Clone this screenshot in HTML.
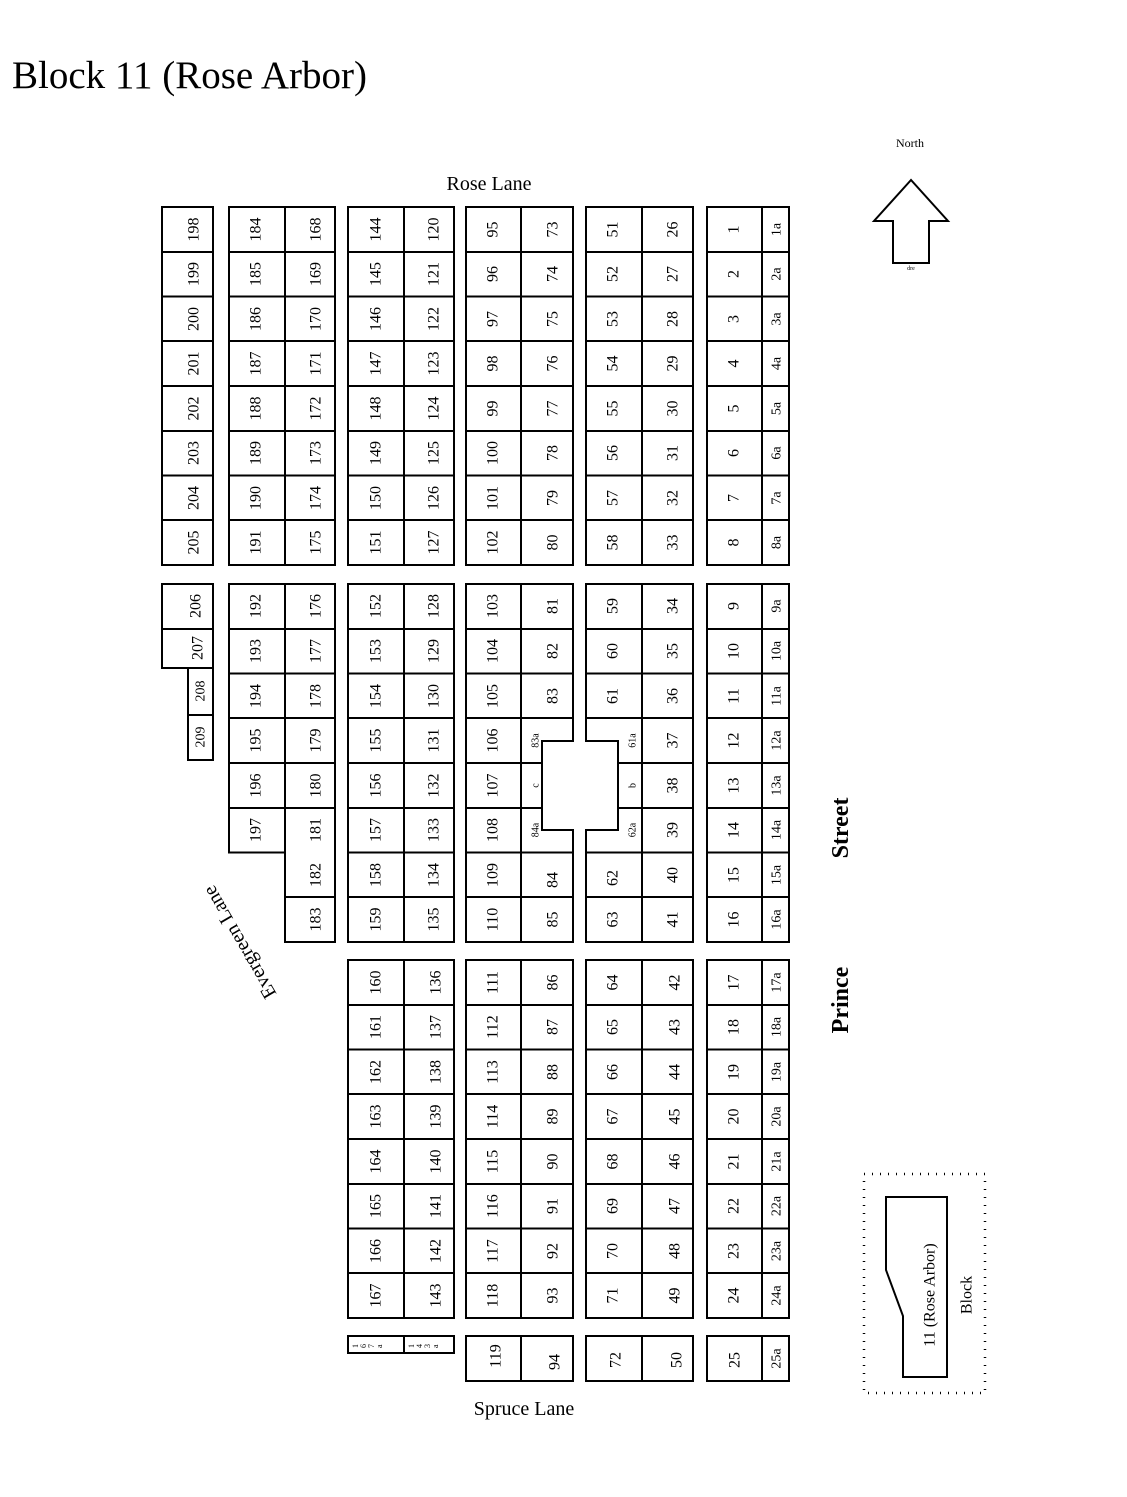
<!DOCTYPE html>
<html><head><meta charset="utf-8"><style>
html,body{margin:0;padding:0;background:#fff;}
svg{display:block;}
text{font-family:"Liberation Serif",serif;fill:#000;}
.n text{font-size:16px;text-anchor:middle;dominant-baseline:central;}
.n text.s{font-size:14px;}
.n text.t{font-size:10px;}
</style></head><body>
<svg width="1127" height="1497" viewBox="0 0 1127 1497" xmlns="http://www.w3.org/2000/svg">
<text x="12" y="88" font-size="39" textLength="355" lengthAdjust="spacingAndGlyphs">Block 11 (Rose Arbor)</text>
<text x="489" y="190" font-size="20" text-anchor="middle">Rose Lane</text>
<text x="524" y="1415" font-size="20" text-anchor="middle">Spruce Lane</text>
<text transform="translate(848 828) rotate(-90)" font-size="24" font-weight="bold" text-anchor="middle">Street</text>
<text transform="translate(848 1000) rotate(-90)" font-size="24" font-weight="bold" text-anchor="middle">Prince</text>
<text transform="translate(240 942) rotate(-120)" font-size="20" text-anchor="middle" dominant-baseline="central">Evergreen Lane</text>
<text x="910" y="147" font-size="12" text-anchor="middle">North</text>
<path d="M911 180L874 221H893V263H929V221H948Z" fill="none" stroke="#000" stroke-width="2"/>
<text x="911" y="270" font-size="6" text-anchor="middle">dre</text>
<rect x="864" y="1174" width="121" height="219" fill="none" stroke="#000" stroke-width="2.5" stroke-dasharray="1 7"/>
<path d="M886 1197H947V1377H903V1316L886 1270Z" fill="none" stroke="#000" stroke-width="2"/>
<text transform="translate(930 1295) rotate(-90)" font-size="16" text-anchor="middle" dominant-baseline="central">11 (Rose Arbor)</text>
<text transform="translate(967 1295) rotate(-90)" font-size="16" text-anchor="middle" dominant-baseline="central">Block</text>

<g fill="none" stroke="#000" stroke-width="2">
<rect x="162" y="207" width="51" height="358"/>
<rect x="229" y="207" width="106" height="358"/>
<rect x="348" y="207" width="106" height="358"/>
<rect x="466" y="207" width="107" height="358"/>
<rect x="586" y="207" width="107" height="358"/>
<rect x="707" y="207" width="82" height="358"/>
<path d="M285 207V565M404 207V565M521 207V565M642 207V565M762 207V565"/>
<path d="M162 252H213M162 296.5H213M162 341H213M162 386H213M162 431H213M162 475.5H213M162 520H213
M229 252H335M229 296.5H335M229 341H335M229 386H335M229 431H335M229 475.5H335M229 520H335
M348 252H454M348 296.5H454M348 341H454M348 386H454M348 431H454M348 475.5H454M348 520H454
M466 252H573M466 296.5H573M466 341H573M466 386H573M466 431H573M466 475.5H573M466 520H573
M586 252H693M586 296.5H693M586 341H693M586 386H693M586 431H693M586 475.5H693M586 520H693
M707 252H789M707 296.5H789M707 341H789M707 386H789M707 431H789M707 475.5H789M707 520H789"/>
<path d="M162 584H213V668H162ZM162 629H213"/>
<path d="M188 668H213V760H188ZM188 715H213"/>
<path d="M229 584H335V942H285V852.5H229Z M285 584V852.5"/>
<path d="M229 629H335M229 673.5H335M229 718H335M229 763H335M229 808H335M285 897H335"/>
<rect x="348" y="584" width="106" height="358"/>
<path d="M404 584V942M348 629H454M348 673.5H454M348 718H454M348 763H454M348 808H454M348 852.5H454M348 897H454"/>
<path d="M573 741V584H466V942H573V830H542V741Z"/>
<path d="M521 584V942M466 629H573M466 673.5H573M466 718H573M466 763H542M466 808H542M466 852.5H573M466 897H573"/>
<path d="M586 741V584H693V942H586V830H618V741Z"/>
<path d="M642 584V942M586 629H693M586 673.5H693M586 718H693M618 763H693M618 808H693M586 852.5H693M586 897H693"/>
<rect x="707" y="584" width="82" height="358"/>
<path d="M762 584V942M707 629H789M707 673.5H789M707 718H789M707 763H789M707 808H789M707 852.5H789M707 897H789"/>
<rect x="348" y="960" width="106" height="358"/>
<rect x="466" y="960" width="107" height="358"/>
<rect x="586" y="960" width="107" height="358"/>
<rect x="707" y="960" width="82" height="358"/>
<path d="M404 960V1318M521 960V1318M642 960V1318M762 960V1318"/>
<path d="M348 1005H454M348 1049.5H454M348 1094H454M348 1139H454M348 1184H454M348 1228.5H454M348 1273H454
M466 1005H573M466 1049.5H573M466 1094H573M466 1139H573M466 1184H573M466 1228.5H573M466 1273H573
M586 1005H693M586 1049.5H693M586 1094H693M586 1139H693M586 1184H693M586 1228.5H693M586 1273H693
M707 1005H789M707 1049.5H789M707 1094H789M707 1139H789M707 1184H789M707 1228.5H789M707 1273H789"/>
<rect x="348" y="1336" width="106" height="17"/><path d="M404 1336V1353"/>
<rect x="466" y="1336" width="107" height="45"/><path d="M521 1336V1381"/>
<rect x="586" y="1336" width="107" height="45"/><path d="M642 1336V1381"/>
<rect x="707" y="1336" width="82" height="45"/><path d="M762 1336V1381"/>
</g>

<g class="n" transform="rotate(-90)">
<text x="-229.5" y="194">198</text><text x="-274" y="194">199</text><text x="-319" y="194">200</text><text x="-363.5" y="194">201</text><text x="-408.5" y="194">202</text><text x="-453" y="194">203</text><text x="-498" y="194">204</text><text x="-542.5" y="194">205</text>
<text x="-229.5" y="256">184</text><text x="-274" y="256">185</text><text x="-319" y="256">186</text><text x="-363.5" y="256">187</text><text x="-408.5" y="256">188</text><text x="-453" y="256">189</text><text x="-498" y="256">190</text><text x="-542.5" y="256">191</text>
<text x="-229.5" y="316">168</text><text x="-274" y="316">169</text><text x="-319" y="316">170</text><text x="-363.5" y="316">171</text><text x="-408.5" y="316">172</text><text x="-453" y="316">173</text><text x="-498" y="316">174</text><text x="-542.5" y="316">175</text>
<text x="-229.5" y="376">144</text><text x="-274" y="376">145</text><text x="-319" y="376">146</text><text x="-363.5" y="376">147</text><text x="-408.5" y="376">148</text><text x="-453" y="376">149</text><text x="-498" y="376">150</text><text x="-542.5" y="376">151</text>
<text x="-229.5" y="434">120</text><text x="-274" y="434">121</text><text x="-319" y="434">122</text><text x="-363.5" y="434">123</text><text x="-408.5" y="434">124</text><text x="-453" y="434">125</text><text x="-498" y="434">126</text><text x="-542.5" y="434">127</text>
<text x="-229.5" y="493">95</text><text x="-274" y="493">96</text><text x="-319" y="493">97</text><text x="-363.5" y="493">98</text><text x="-408.5" y="493">99</text><text x="-453" y="493">100</text><text x="-498" y="493">101</text><text x="-542.5" y="493">102</text>
<text x="-229.5" y="553">73</text><text x="-274" y="553">74</text><text x="-319" y="553">75</text><text x="-363.5" y="553">76</text><text x="-408.5" y="553">77</text><text x="-453" y="553">78</text><text x="-498" y="553">79</text><text x="-542.5" y="553">80</text>
<text x="-229.5" y="613">51</text><text x="-274" y="613">52</text><text x="-319" y="613">53</text><text x="-363.5" y="613">54</text><text x="-408.5" y="613">55</text><text x="-453" y="613">56</text><text x="-498" y="613">57</text><text x="-542.5" y="613">58</text>
<text x="-229.5" y="673">26</text><text x="-274" y="673">27</text><text x="-319" y="673">28</text><text x="-363.5" y="673">29</text><text x="-408.5" y="673">30</text><text x="-453" y="673">31</text><text x="-498" y="673">32</text><text x="-542.5" y="673">33</text>
<text x="-229.5" y="734">1</text><text x="-274" y="734">2</text><text x="-319" y="734">3</text><text x="-363.5" y="734">4</text><text x="-408.5" y="734">5</text><text x="-453" y="734">6</text><text x="-498" y="734">7</text><text x="-542.5" y="734">8</text>
<text class="s" x="-229.5" y="777">1a</text><text class="s" x="-274" y="777">2a</text><text class="s" x="-319" y="777">3a</text><text class="s" x="-363.5" y="777">4a</text><text class="s" x="-408.5" y="777">5a</text><text class="s" x="-453" y="777">6a</text><text class="s" x="-498" y="777">7a</text><text class="s" x="-542.5" y="777">8a</text>
<text x="-606" y="196">206</text><text x="-648" y="198">207</text><text class="s" x="-691" y="201">208</text><text class="s" x="-737" y="201">209</text>
<text x="-606" y="256">192</text><text x="-651" y="256">193</text><text x="-696" y="256">194</text><text x="-740.5" y="256">195</text><text x="-785.5" y="256">196</text><text x="-830" y="256">197</text>
<text x="-606" y="316">176</text><text x="-651" y="316">177</text><text x="-696" y="316">178</text><text x="-740.5" y="316">179</text><text x="-785.5" y="316">180</text><text x="-830" y="316">181</text><text x="-875" y="316">182</text><text x="-919.5" y="316">183</text>
<text x="-606" y="376">152</text><text x="-651" y="376">153</text><text x="-696" y="376">154</text><text x="-740.5" y="376">155</text><text x="-785.5" y="376">156</text><text x="-830" y="376">157</text><text x="-875" y="376">158</text><text x="-919.5" y="376">159</text>
<text x="-606" y="434">128</text><text x="-651" y="434">129</text><text x="-696" y="434">130</text><text x="-740.5" y="434">131</text><text x="-785.5" y="434">132</text><text x="-830" y="434">133</text><text x="-875" y="434">134</text><text x="-919.5" y="434">135</text>
<text x="-606" y="493">103</text><text x="-651" y="493">104</text><text x="-696" y="493">105</text><text x="-740.5" y="493">106</text><text x="-785.5" y="493">107</text><text x="-830" y="493">108</text><text x="-875" y="493">109</text><text x="-919.5" y="493">110</text>
<text x="-606" y="553">81</text><text x="-651" y="553">82</text><text x="-696" y="553">83</text><text class="t" x="-740.5" y="536">83a</text><text class="t" x="-785.5" y="536">c</text><text class="t" x="-830" y="536">84a</text><text x="-880" y="553">84</text><text x="-919.5" y="553">85</text>
<text x="-606" y="613">59</text><text x="-651" y="613">60</text><text x="-696" y="613">61</text><text class="t" x="-740.5" y="633">61a</text><text class="t" x="-785.5" y="633">b</text><text class="t" x="-830" y="633">62a</text><text x="-878" y="613">62</text><text x="-919.5" y="613">63</text>
<text x="-606" y="673">34</text><text x="-651" y="673">35</text><text x="-696" y="673">36</text><text x="-740.5" y="673">37</text><text x="-785.5" y="673">38</text><text x="-830" y="673">39</text><text x="-875" y="673">40</text><text x="-919.5" y="673">41</text>
<text x="-606" y="734">9</text><text x="-651" y="734">10</text><text x="-696" y="734">11</text><text x="-740.5" y="734">12</text><text x="-785.5" y="734">13</text><text x="-830" y="734">14</text><text x="-875" y="734">15</text><text x="-919.5" y="734">16</text>
<text class="s" x="-606" y="777">9a</text><text class="s" x="-651" y="777">10a</text><text class="s" x="-696" y="777">11a</text><text class="s" x="-740.5" y="777">12a</text><text class="s" x="-785.5" y="777">13a</text><text class="s" x="-830" y="777">14a</text><text class="s" x="-875" y="777">15a</text><text class="s" x="-919.5" y="777">16a</text>
<text x="-982.5" y="376">160</text><text x="-1027" y="376">161</text><text x="-1072" y="376">162</text><text x="-1116.5" y="376">163</text><text x="-1161.5" y="376">164</text><text x="-1206" y="376">165</text><text x="-1251" y="376">166</text><text x="-1295.5" y="376">167</text>
<text x="-982.5" y="436">136</text><text x="-1027" y="436">137</text><text x="-1072" y="436">138</text><text x="-1116.5" y="436">139</text><text x="-1161.5" y="436">140</text><text x="-1206" y="436">141</text><text x="-1251" y="436">142</text><text x="-1295.5" y="436">143</text>
<text x="-982.5" y="493">111</text><text x="-1027" y="493">112</text><text x="-1072" y="493">113</text><text x="-1116.5" y="493">114</text><text x="-1161.5" y="493">115</text><text x="-1206" y="493">116</text><text x="-1251" y="493">117</text><text x="-1295.5" y="493">118</text>
<text x="-982.5" y="553">86</text><text x="-1027" y="553">87</text><text x="-1072" y="553">88</text><text x="-1116.5" y="553">89</text><text x="-1161.5" y="553">90</text><text x="-1206" y="553">91</text><text x="-1251" y="553">92</text><text x="-1295.5" y="553">93</text>
<text x="-982.5" y="613">64</text><text x="-1027" y="613">65</text><text x="-1072" y="613">66</text><text x="-1116.5" y="613">67</text><text x="-1161.5" y="613">68</text><text x="-1206" y="613">69</text><text x="-1251" y="613">70</text><text x="-1295.5" y="613">71</text>
<text x="-982.5" y="675">42</text><text x="-1027" y="675">43</text><text x="-1072" y="675">44</text><text x="-1116.5" y="675">45</text><text x="-1161.5" y="675">46</text><text x="-1206" y="675">47</text><text x="-1251" y="675">48</text><text x="-1295.5" y="675">49</text>
<text x="-982.5" y="734">17</text><text x="-1027" y="734">18</text><text x="-1072" y="734">19</text><text x="-1116.5" y="734">20</text><text x="-1161.5" y="734">21</text><text x="-1206" y="734">22</text><text x="-1251" y="734">23</text><text x="-1295.5" y="734">24</text>
<text class="s" x="-982.5" y="777">17a</text><text class="s" x="-1027" y="777">18a</text><text class="s" x="-1072" y="777">19a</text><text class="s" x="-1116.5" y="777">20a</text><text class="s" x="-1161.5" y="777">21a</text><text class="s" x="-1206" y="777">22a</text><text class="s" x="-1251" y="777">23a</text><text class="s" x="-1295.5" y="777">24a</text>
<text x="-1356" y="496">119</text><text x="-1362" y="555">94</text><text x="-1360" y="616">72</text><text x="-1360" y="677">50</text><text x="-1360" y="735">25</text><text class="s" x="-1358.5" y="777">25a</text>
</g>
<text x="358" y="1348" font-size="8" rotate="-90 -90 -90 -90" letter-spacing="4">167a</text>
<text x="414" y="1348" font-size="8" rotate="-90 -90 -90 -90" letter-spacing="4">143a</text>
</svg>
</body></html>
